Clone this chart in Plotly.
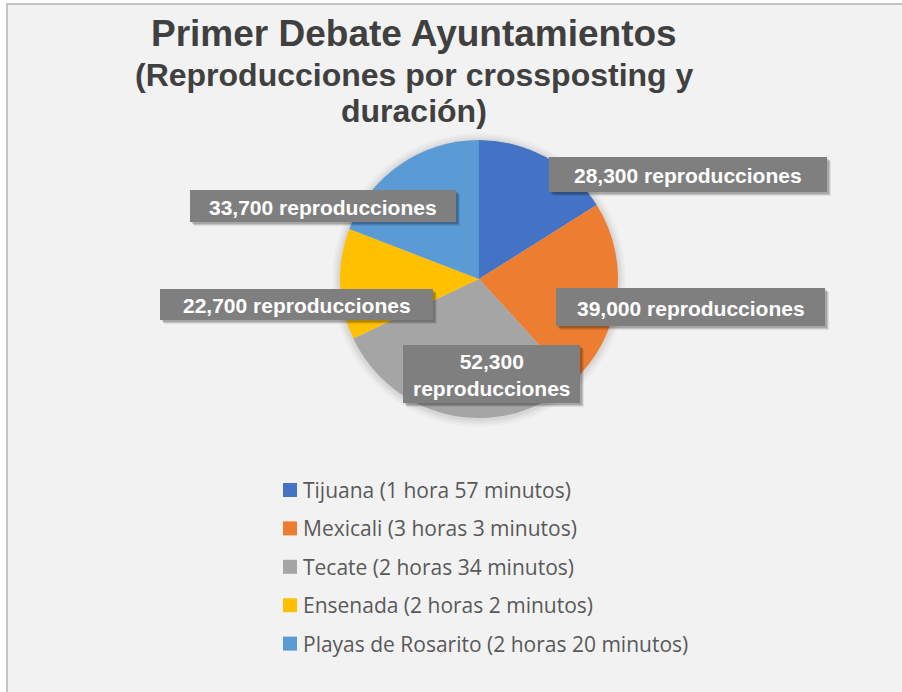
import plotly.graph_objects as go

# --- data -----------------------------------------------------------------
municipios = ["Tijuana", "Mexicali", "Tecate", "Ensenada", "Playas de Rosarito"]
duraciones = ["1 hora 57 minutos", "3 horas 3 minutos", "2 horas 34 minutos",
              "2 horas 2 minutos", "2 horas 20 minutos"]
reproducciones = [28300, 39000, 52300, 22700, 33700]
colores = ["#4472C4", "#ED7D31", "#A5A5A5", "#FFC000", "#5B9BD5"]

titulo = ["Primer Debate Ayuntamientos",
          "(Reproducciones por crossposting y",
          "duración)"]

# --- page geometry (pixels) ----------------------------------------------
W, H = 902, 692
def px(x):
    return x / W
def py(y):
    return 1 - y / H

cx, cy, r = 479, 279, 139          # pie centre and radius

# data-label boxes: (x0, y0, x1, y1) per slice, and line-broken text flag
cajas = [(549, 157, 827, 192), (556, 288, 825, 326), (403, 345, 580, 403),
         (160, 289, 433, 320), (190, 190, 456, 222)]
partir = [False, False, True, False, False]

leyenda_x, leyenda_y0, leyenda_dy = 283, 490, 38.4

fig = go.Figure()

fig.add_trace(go.Pie(
    labels=[f"{m} ({d})" for m, d in zip(municipios, duraciones)],
    values=reproducciones,
    sort=False,
    direction="clockwise",
    rotation=0,
    marker=dict(colors=colores, line=dict(width=0)),
    textinfo="none",
    hoverinfo="label+value",
    showlegend=False,
    domain=dict(x=[px(cx - r), px(cx + r)], y=[py(cy + r), py(cy - r)]),
))

shapes = []
annotations = []

# chart area with thin frame
shapes.append(dict(type="rect", xref="paper", yref="paper", layer="below",
                   x0=px(7), x1=px(W + 5), y0=py(H + 5), y1=py(4),
                   fillcolor="#F2F2F2", line=dict(color="#C4C4C4", width=2)))

# soft halo around the pie
for k, a in enumerate([0.025, 0.025, 0.03, 0.035]):
    rr = r + 8 - 2 * k
    shapes.append(dict(type="circle", xref="paper", yref="paper", layer="below",
                       x0=px(cx - rr), x1=px(cx + rr), y0=py(cy + rr + 1), y1=py(cy - rr + 1),
                       fillcolor=f"rgba(0,0,0,{a})", line=dict(width=0)))

# title lines
for texto, yc, size in zip(titulo, [33, 75, 111], [37, 32, 32]):
    annotations.append(dict(text=texto, xref="paper", yref="paper",
                            x=px(414), y=py(yc), xanchor="center", yanchor="middle",
                            showarrow=False,
                            font=dict(family="Liberation Sans", size=size,
                                      color="#404040", weight="bold")))

# data labels: grey callout boxes with drop shadow
for v, (x0, y0, x1, y1), br in zip(reproducciones, cajas, partir):
    for off, a in [(4, 0.08), (3, 0.12), (2, 0.15)]:
        shapes.append(dict(type="rect", xref="paper", yref="paper", layer="above",
                           x0=px(x0 + off), x1=px(x1 + off), y0=py(y1 + off), y1=py(y0 + off),
                           fillcolor=f"rgba(0,0,0,{a})", line=dict(width=0)))
    shapes.append(dict(type="rect", xref="paper", yref="paper", layer="above",
                       x0=px(x0), x1=px(x1), y0=py(y1), y1=py(y0),
                       fillcolor="#7F7F7F", line=dict(width=0)))
    sep = "<br>" if br else " "
    annotations.append(dict(text=f"{v:,}{sep}reproducciones", xref="paper", yref="paper",
                            x=px((x0 + x1) / 2), y=py((y0 + y1) / 2 + 1),
                            xanchor="center", yanchor="middle", showarrow=False,
                            font=dict(family="Liberation Sans", size=21,
                                      color="#FFFFFF", weight="bold")))

# legend: coloured squares with municipality and duration
for i, (m, d, c) in enumerate(zip(municipios, duraciones, colores)):
    yc = leyenda_y0 + i * leyenda_dy
    shapes.append(dict(type="rect", xref="paper", yref="paper", layer="above",
                       x0=px(leyenda_x), x1=px(leyenda_x + 14),
                       y0=py(yc + 7), y1=py(yc - 7),
                       fillcolor=c, line=dict(width=0)))
    annotations.append(dict(text=f"{m} ({d})", xref="paper", yref="paper",
                            x=px(leyenda_x + 18), y=py(yc), xanchor="left", yanchor="middle",
                            showarrow=False,
                            font=dict(family="Open Sans", size=21, color="#595959")))

fig.update_layout(
    width=W, height=H,
    margin=dict(l=0, r=0, t=0, b=0),
    paper_bgcolor="#FFFFFF",
    plot_bgcolor="#F2F2F2",
    shapes=shapes,
    annotations=annotations,
)

fig.write_html("out.html", config=dict(displayModeBar=False))
